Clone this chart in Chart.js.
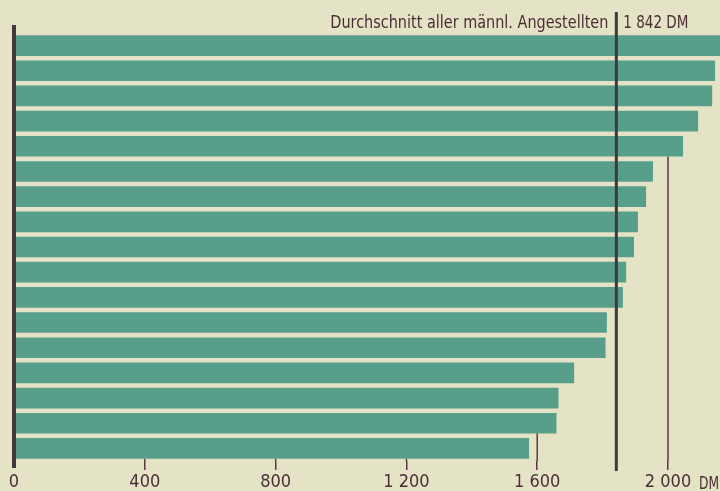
<!DOCTYPE html>
<html>
<head>
<meta charset="utf-8">
<script src="https://cdn.jsdelivr.net/npm/chart.js@4/dist/chart.umd.min.js"></script>
<style>
  html, body { margin: 0; padding: 0; background: #e5e3c6; }
  #wrap { width: 720px; height: 491px; position: relative; }
</style>
</head>
<body>
<div id="wrap"><canvas id="salaryChart"></canvas></div>
<script>
// Durchschnittliche Monatsgehälter (DM), von oben nach unten
const categories = ['1', '2', '3', '4', '5', '6', '7', '8', '9', '10', '11', '12', '13', '14', '15', '16', '17'];
const salaries = [2190, 2144, 2135, 2092, 2046, 1954, 1933, 1908, 1896, 1872, 1862, 1813, 1809, 1713, 1665, 1659, 1575];
const tickValues = [0, 400, 800, 1200, 1600, 2000];
const averageValue = 1842;
const averageLabel = 'Durchschnitt aller männl. Angestellten';
const averageValueLabel = '1 842 DM';
const unitLabel = 'DM';

const barColor = '#589f8b';
const inkColor = '#433740';
const gridColor = '#5a3a40';
const textColor = '#4a2e33';
const fontFamily = "'Liberation Sans Narrow', 'DejaVu Sans Condensed', sans-serif";

function fmt(v) {
    if (v >= 1000) {
        const s = String(v);
        return s.slice(0, s.length - 3) + ' ' + s.slice(-3);
    }
    return String(v);
}

// Hilfslinien nur unterhalb der Balken, die den Wert nicht erreichen
const tickLinesPlugin = {
    id: 'tickLines',
    afterDatasetsDraw(chart) {
        const ctx = chart.ctx;
        const x = chart.scales.x;
        const area = chart.chartArea;
        const bars = chart.getDatasetMeta(0).data;
        ctx.save();
        ctx.strokeStyle = gridColor;
        ctx.lineWidth = 1.5;
        tickValues.forEach(v => {
            if (v === 0) return;
            let top = area.top;
            salaries.forEach((s, i) => {
                if (s >= v) top = bars[i].y + bars[i].height / 2;
            });
            const px = x.getPixelForValue(v);
            ctx.beginPath();
            ctx.moveTo(px, top);
            ctx.lineTo(px, area.bottom);
            ctx.stroke();
        });
        ctx.restore();
    }
};

// eigene Linien und Beschriftungen
const extrasPlugin = {
    id: 'extras',
    afterDraw(chart) {
        const ctx = chart.ctx;
        const x = chart.scales.x;
        const area = chart.chartArea;
        ctx.save();

        // Nulllinie
        const x0 = x.getPixelForValue(0);
        ctx.strokeStyle = inkColor;
        ctx.lineWidth = 4;
        ctx.beginPath();
        ctx.moveTo(x0, area.top - 8);
        ctx.lineTo(x0, area.bottom + 7);
        ctx.stroke();

        // Durchschnittslinie
        const xa = x.getPixelForValue(averageValue);
        ctx.lineWidth = 3;
        ctx.beginPath();
        ctx.moveTo(xa, 12);
        ctx.lineTo(xa, area.bottom + 10);
        ctx.stroke();

        // Beschriftung oben
        ctx.fillStyle = textColor;
        ctx.font = '18px ' + fontFamily;
        ctx.textBaseline = 'alphabetic';
        ctx.textAlign = 'right';
        ctx.fillText(averageLabel, xa - 8, 28, 278);
        ctx.textAlign = 'left';
        ctx.fillText(averageValueLabel, xa + 7, 28, 65);

        // Einheit neben 2 000
        ctx.fillText(unitLabel, x.getPixelForValue(2000) + 31, 489, 20);
        ctx.restore();
    }
};

new Chart(document.getElementById('salaryChart'), {
    type: 'bar',
    data: {
        labels: categories,
        datasets: [{
            data: salaries,
            backgroundColor: barColor,
            borderWidth: 0,
            barPercentage: 0.82,
            categoryPercentage: 1
        }]
    },
    options: {
        indexAxis: 'y',
        responsive: true,
        maintainAspectRatio: false,
        animation: false,
        layout: { padding: { left: 14, right: 0, top: 33, bottom: 0 } },
        plugins: {
            legend: { display: false },
            tooltip: { enabled: false }
        },
        scales: {
            y: { display: false },
            x: {
                min: 0,
                max: 2159,
                afterBuildTicks(scale) {
                    scale.ticks = tickValues.map(v => ({ value: v }));
                },
                afterFit(scale) { scale.height = 30; },
                border: { display: false },
                grid: {
                    drawOnChartArea: false,
                    tickLength: 9,
                    lineWidth: 1.5,
                    color: ctx => (ctx.tick && ctx.tick.value === 0) ? 'rgba(0,0,0,0)' : gridColor
                },
                ticks: {
                    padding: 2,
                    color: textColor,
                    maxRotation: 0,
                    autoSkip: false,
                    font: { family: fontFamily, size: 18 },
                    callback: v => fmt(v)
                }
            }
        }
    },
    plugins: [tickLinesPlugin, extrasPlugin]
});
</script>
</body>
</html>
